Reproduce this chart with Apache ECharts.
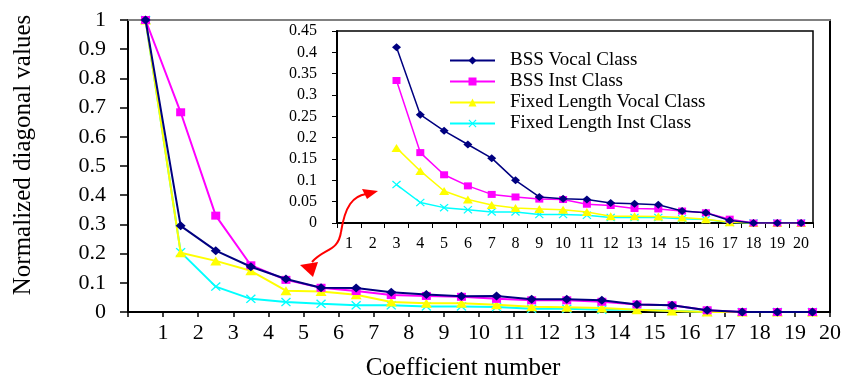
<!DOCTYPE html>
<html>
<head>
<meta charset="utf-8">
<script src="https://cdn.jsdelivr.net/npm/echarts@6/dist/echarts.min.js"></script>
<style>
	html, body { margin: 0; padding: 0; background: #fff; }
	#chart { width: 848px; height: 386px; }
</style>
</head>
<body>
<div id="chart"></div>
<script>
/* 主图数据：系数 1..20 */
const coeffs = [1, 2, 3, 4, 5, 6, 7, 8, 9, 10, 11, 12, 13, 14, 15, 16, 17, 18, 19, 20];
const bssVocal = [1, 0.295, 0.21, 0.155, 0.113, 0.083, 0.082, 0.068, 0.06, 0.054, 0.055, 0.044, 0.044, 0.04, 0.026, 0.023, 0.006, 0, 0, 0];
const bssInst = [1, 0.684, 0.33, 0.16, 0.11, 0.083, 0.072, 0.058, 0.055, 0.052, 0.045, 0.04, 0.04, 0.035, 0.026, 0.023, 0.006, 0, 0, 0];
const fixedVocal = [1, 0.203, 0.175, 0.141, 0.073, 0.07, 0.059, 0.034, 0.03, 0.03, 0.025, 0.018, 0.016, 0.014, 0.008, 0.003, 0, 0, 0, 0];
const fixedInst = [1, 0.205, 0.087, 0.045, 0.034, 0.028, 0.023, 0.023, 0.019, 0.019, 0.017, 0.011, 0.011, 0.008, 0.008, 0.004, 0, 0, 0, 0];

/* 小图数据：系数 3..20 */
const insetCats = ['1', '2', '3', '4', '5', '6', '7', '8', '9', '10', '11', '12', '13', '14', '15', '16', '17', '18', '19', '20'];
const insetCoeffs = ['3', '4', '5', '6', '7', '8', '9', '10', '11', '12', '13', '14', '15', '16', '17', '18', '19', '20'];
const insetBssVocal = [0.412, 0.254, 0.216, 0.184, 0.152, 0.1, 0.061, 0.057, 0.055, 0.047, 0.045, 0.043, 0.028, 0.024, 0.006, 0, 0, 0];
const insetBssInst = [0.334, 0.165, 0.113, 0.087, 0.067, 0.061, 0.056, 0.055, 0.044, 0.041, 0.034, 0.033, 0.028, 0.024, 0.009, 0, 0, 0];
const insetFixedVocal = [0.176, 0.122, 0.075, 0.055, 0.042, 0.035, 0.033, 0.031, 0.026, 0.016, 0.016, 0.015, 0.013, 0.009, 0.002, 0, 0, 0];
const insetFixedInst = [0.09, 0.048, 0.036, 0.031, 0.026, 0.026, 0.02, 0.02, 0.018, 0.013, 0.013, 0.013, 0.01, 0.008, 0.001, 0, 0, 0];

const names = ['BSS Vocal Class', 'BSS Inst Class', 'Fixed Length Vocal Class', 'Fixed Length Inst Class'];
const colors = ['#000080', '#ff00ff', '#ffff00', '#00ffff'];
const crossSymbol = 'path://M0,1 L1,0 L5,4 L9,0 L10,1 L6,5 L10,9 L9,10 L5,6 L1,10 L0,9 L4,5 Z';
const symbols = ['diamond', 'rect', 'triangle', crossSymbol];
const symbolSizes = [[10, 9], [9, 8], [11, 9], [10, 9]];

const font = 'Liberation Serif';

const chart = echarts.init(document.getElementById('chart'));

/* 点落在两个刻度之间 */
const mainPoints = values => values.map((v, i) => [coeffs[i] - 0.5, v]);
const insetPoints = values => values.map((v, i) => [insetCoeffs[i], v]);

const mainSets = [bssVocal, bssInst, fixedVocal, fixedInst];
const insetSets = [insetBssVocal, insetBssInst, insetFixedVocal, insetFixedInst];

const series = [];
mainSets.forEach((values, k) => {
	series.push({
		type: 'line',
		name: names[k],
		xAxisIndex: 0,
		yAxisIndex: 0,
		data: mainPoints(values),
		symbol: symbols[k],
		symbolSize: symbolSizes[k],
		showAllSymbol: true,
		color: colors[k],
		lineStyle: { width: 2, color: colors[k] },
		itemStyle: { color: colors[k] },
		z: 10 - k
	});
});
insetSets.forEach((values, k) => {
	series.push({
		type: 'line',
		name: names[k],
		xAxisIndex: 2,
		yAxisIndex: 2,
		data: insetPoints(values),
		symbol: symbols[k],
		symbolSize: symbolSizes[k].map(s => s - 1),
		showAllSymbol: true,
		color: colors[k],
		lineStyle: { width: 1.5, color: colors[k] },
		itemStyle: { color: colors[k] },
		z: 10 - k
	});
});

chart.setOption({
	animation: false,
	backgroundColor: '#fff',
	textStyle: { fontFamily: font, color: '#000' },
	grid: [
		{ left: 128, right: 18, top: 20, bottom: 71 },
		{ left: 337, right: 35, top: 31, bottom: 163, show: true, backgroundColor: '#fff', borderColor: '#000', borderWidth: 1.5, z: 5 }
	],
	legend: {
		data: names,
		orient: 'vertical',
		left: 444,
		top: 46,
		itemWidth: 45,
		itemHeight: 10,
		itemGap: 2,
		textStyle: { fontFamily: font, fontSize: 19, color: '#000', padding: [0, 0, 0, 10] },
		z: 20
	},
	xAxis: [
		{
			type: 'value',
			gridIndex: 0,
			min: 0,
			max: 20,
			interval: 1,
			axisLine: { show: true, onZero: false, lineStyle: { color: '#000', width: 2 } },
			axisTick: { show: true, length: 5, lineStyle: { color: '#000', width: 1.5 } },
			axisLabel: {
				fontFamily: font,
				fontSize: 22,
				color: '#000',
				margin: 10,
				formatter: v => (v === 0 ? '' : v)
			},
			splitLine: { show: false },
			name: 'Coefficient number',
			nameLocation: 'middle',
			nameGap: 44,
			nameTextStyle: { fontFamily: font, fontSize: 25, color: '#000', padding: [0, 32, 0, 0] }
		},
		{
			type: 'value',
			gridIndex: 0,
			position: 'top',
			min: 0,
			max: 20,
			axisLine: { show: true, onZero: false, lineStyle: { color: '#808080', width: 2 } },
			axisTick: { show: false },
			axisLabel: { show: false },
			splitLine: { show: false }
		},
		{
			type: 'category',
			gridIndex: 1,
			data: insetCats,
			boundaryGap: true,
			axisLine: { show: true, onZero: false, lineStyle: { color: '#000', width: 2 } },
			axisTick: { show: true, length: 5, lineStyle: { color: '#000' } },
			axisLabel: { fontFamily: font, fontSize: 16, color: '#000', margin: 13 },
			z: 6
		}
	],
	yAxis: [
		{
			type: 'value',
			gridIndex: 0,
			min: 0,
			max: 1,
			interval: 0.1,
			axisLine: { show: true, onZero: false, lineStyle: { color: '#000', width: 2 } },
			axisTick: { show: true, length: 8, lineStyle: { color: '#000', width: 1.5 } },
			axisLabel: { fontFamily: font, fontSize: 22, color: '#000', margin: 22 },
			splitLine: { show: false },
			name: 'Normalized diagonal values',
			nameLocation: 'middle',
			nameGap: 92,
			nameTextStyle: { fontFamily: font, fontSize: 25, color: '#000', padding: [0, 0, 0, 22] }
		},
		{
			type: 'value',
			gridIndex: 0,
			position: 'right',
			min: 0,
			max: 1,
			axisLine: { show: true, onZero: false, lineStyle: { color: '#000', width: 2 } },
			axisTick: { show: false },
			axisLabel: { show: false },
			splitLine: { show: false }
		},
		{
			type: 'value',
			gridIndex: 1,
			min: 0,
			max: 0.45,
			interval: 0.05,
			axisLine: { show: true, onZero: false, lineStyle: { color: '#000', width: 2 } },
			axisTick: { show: true, length: 5, lineStyle: { color: '#000' } },
			axisLabel: { fontFamily: font, fontSize: 16, color: '#000', margin: 20 },
			splitLine: { show: false },
			z: 6
		}
	],
	/* 红色双向箭头 */
	graphic: [
		{
			type: 'bezierCurve',
			shape: { x1: 312, y1: 262, cpx1: 324, cpy1: 248, cpx2: 338, cpy2: 252, x2: 341, y2: 232 },
			style: { stroke: '#ff0000', lineWidth: 2, fill: null },
			z: 30
		},
		{
			type: 'bezierCurve',
			shape: { x1: 341, y1: 232, cpx1: 345, cpy1: 206, cpx2: 353, cpy2: 196, x2: 366, y2: 194 },
			style: { stroke: '#ff0000', lineWidth: 2, fill: null },
			z: 30
		},
		{
			type: 'polygon',
			shape: { points: [[300, 265], [318, 262], [313, 277]] },
			style: { fill: '#ff0000' },
			z: 30
		},
		{
			type: 'polygon',
			shape: { points: [[378, 191], [362, 189], [367, 199]] },
			style: { fill: '#ff0000' },
			z: 30
		}
	],
	series: series
});
</script>
</body>
</html>
